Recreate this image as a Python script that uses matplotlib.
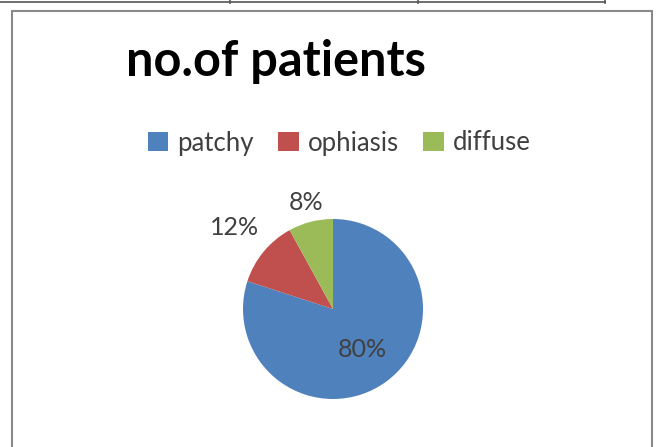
import matplotlib
matplotlib.use("Agg")
import matplotlib.pyplot as plt
from matplotlib.patches import Rectangle, Patch
from matplotlib.lines import Line2D
import numpy as np

categories = ["patchy", "ophiasis", "diffuse"]
values = [80, 12, 8]
colors = ["#4F81BD", "#C0504D", "#9BBB59"]
title = "no.of patients"
label_dist = [0.55, 1.42, 1.22]

W, H = 657, 447
fig = plt.figure(figsize=(W / 100, H / 100), dpi=100)
fig.patch.set_facecolor("white")

# table remnant at top
fig.add_artist(Line2D([0, 605 / W], [1 - 2 / H, 1 - 2 / H], color="#555555", lw=1.2))
for xv in [230, 418, 605]:
    fig.add_artist(Line2D([xv / W, xv / W], [1, 1 - 3 / H], color="#555555", lw=1.2))

# chart border
fig.add_artist(Rectangle((12 / W, -0.01), (652 - 12) / W, 1 - 11 / H + 0.01,
                         transform=fig.transFigure, fill=False, ec="#8a8a8a", lw=1.5))

cx, cy, r = 333, 309, 90
ax = fig.add_axes([(cx - r) / W, (H - cy - r) / H, 2 * r / W, 2 * r / H])
wedges, _ = ax.pie(values, colors=colors, startangle=90, counterclock=False, radius=1)
ax.set_xlim(-1, 1)
ax.set_ylim(-1, 1)
ax.set_aspect("equal")
ax.axis("off")

total = sum(values)
for w, v, d in zip(wedges, values, label_dist):
    ang = np.deg2rad((w.theta1 + w.theta2) / 2)
    ax.text(d * np.cos(ang), d * np.sin(ang), f"{round(100 * v / total)}%",
            ha="center", va="center", fontsize=18, color="#404040", family="Lato")

fig.text(276 / W, 1 - 62 / H, title, ha="center", va="center", fontsize=35,
         fontweight="bold", family="Lato", color="black")

handles = [Patch(facecolor=c, edgecolor="none") for c in colors]
fig.legend(handles, categories, loc="center", bbox_to_anchor=(339 / W, 1 - 143 / H),
           ncol=3, frameon=False, prop={"family": "Lato", "size": 18.5},
           handlelength=0.8, handleheight=0.8, handletextpad=0.35, columnspacing=0.95,
           labelcolor="#404040")

fig.savefig("out.png", dpi=100)
